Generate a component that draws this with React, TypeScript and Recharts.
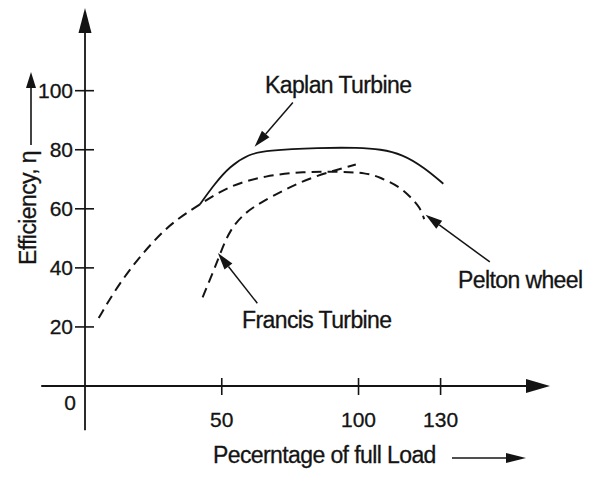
import { LineChart, Line, XAxis, YAxis, ReferenceLine } from "recharts"

// efficiency curves (load in %, efficiency in %)
const kaplanLoad = [42, 47, 53, 60, 66, 86, 100, 108, 116, 124, 131]
const kaplanEff = [61.5, 68, 74.5, 78.5, 79.8, 80.7, 80.7, 80.2, 78.5, 74, 68.5]

const peltonLoad = [5, 11, 18, 25, 32, 42, 53, 66, 80, 92, 103, 108, 115, 119, 122.5, 124]
const peltonEff = [23, 32.5, 41.5, 49, 55.5, 61.5, 68, 71.2, 72.6, 72.6, 72.2, 70.6, 67.5, 64, 60.5, 56.5]

const francisLoad = [43, 47, 49.5, 53, 58.5, 64, 73, 83.5, 99]
const francisEff = [30, 39, 45, 53, 58.7, 62, 66.5, 71, 75]

const loadTicks = [50, 100, 130]
const effTicks = [20, 40, 60, 80, 100]

const toPoints = (xs: number[], ys: number[]) => xs.map((x, i) => ({ load: x, eff: ys[i] }))

const kaplan = toPoints(kaplanLoad, kaplanEff)
const pelton = toPoints(peltonLoad, peltonEff)
const francis = toPoints(francisLoad, francisEff)

const ink = "#141414"
const font = '"Liberation Sans", Arial, Helvetica, sans-serif'

const arrowShape = (head: number, half: number, width: number) => (p: any) => {
  const { x1, y1, x2, y2 } = p
  const len = Math.hypot(x2 - x1, y2 - y1) || 1
  const ux = (x2 - x1) / len
  const uy = (y2 - y1) / len
  const bx = x2 - ux * head
  const by = y2 - uy * head
  const pts = `${x2},${y2} ${bx - uy * half},${by + ux * half} ${bx + uy * half},${by - ux * half}`
  return (
    <g>
      <line x1={x1} y1={y1} x2={bx} y2={by} stroke={ink} strokeWidth={width} />
      <polygon points={pts} fill={ink} />
    </g>
  )
}

const XTick = ({ x, y, payload }: any) => (
  <g>
    <line x1={x} y1={y - 8} x2={x} y2={y + 9} stroke={ink} strokeWidth={1.6} />
    <text x={x} y={y + 41} textAnchor="middle" fontSize={21} fill={ink} stroke={ink} strokeWidth={0.3} fontFamily={font}>
      {payload.value}
    </text>
  </g>
)

const YTick = ({ x, y, payload }: any) => (
  <g>
    <line x1={x - 10} y1={y} x2={x + 9} y2={y} stroke={ink} strokeWidth={1.6} />
    <text x={x - 12} y={y} dy="0.36em" textAnchor="end" fontSize={21} fill={ink} stroke={ink} strokeWidth={0.3} fontFamily={font}>
      {payload.value}
    </text>
  </g>
)

const labelStyle = { fontSize: 23, fill: ink, stroke: ink, strokeWidth: 0.3, fontFamily: font, letterSpacing: -0.6 }

export default function App() {
  return (
    <div style={{ position: "absolute", left: 0, top: 0, width: 607, height: 481, background: "#fff" }}>
      <LineChart width={607} height={481} margin={{ top: 8, right: 57, bottom: 0, left: 0 }}>
        <XAxis
          dataKey="load"
          type="number"
          domain={[0, 170]}
          ticks={loadTicks}
          interval={0}
          axisLine={false}
          tickLine={false}
          tickSize={0}
          tickMargin={0}
          height={95}
          tick={<XTick />}
        />
        <YAxis
          type="number"
          domain={[0, 128]}
          ticks={effTicks}
          interval={0}
          axisLine={false}
          tickLine={false}
          tickSize={0}
          tickMargin={0}
          width={85}
          tick={<YTick />}
        />

        {/* axes with arrow heads, crossing at the origin */}
        <ReferenceLine segment={[{ x: -16, y: 0 }, { x: 170, y: 0 }]} ifOverflow="visible" shape={arrowShape(24, 7, 1.8)} />
        <ReferenceLine segment={[{ x: 0, y: -15 }, { x: 0, y: 128 }]} ifOverflow="visible" shape={arrowShape(25, 6.5, 1.8)} />

        <Line data={pelton} dataKey="eff" type="basis" stroke={ink} strokeWidth={2} strokeDasharray="10 6" dot={false} activeDot={false} isAnimationActive={false} />
        <Line data={francis} dataKey="eff" type="basis" stroke={ink} strokeWidth={2} strokeDasharray="10 6" dot={false} activeDot={false} isAnimationActive={false} />
        <Line data={kaplan} dataKey="eff" type="basis" stroke={ink} strokeWidth={1.8} dot={false} activeDot={false} isAnimationActive={false} />

        {/* pointer arrows to each curve */}
        <ReferenceLine segment={[{ x: 76, y: 96 }, { x: 62, y: 81 }]} ifOverflow="visible" shape={arrowShape(17, 5, 1.5)} />
        <ReferenceLine segment={[{ x: 63, y: 28 }, { x: 48.6, y: 45 }]} ifOverflow="visible" shape={arrowShape(17, 5, 1.5)} />
        <ReferenceLine segment={[{ x: 148, y: 42 }, { x: 124.5, y: 58 }]} ifOverflow="visible" shape={arrowShape(17, 5, 1.5)} />

        <text x={265} y={93} {...labelStyle}>Kaplan Turbine</text>
        <text x={242} y={328} {...labelStyle}>Francis Turbine</text>
        <text x={458} y={288} {...labelStyle}>Pelton wheel</text>

        <text x={70} y={410} textAnchor="middle" fontSize={21} fill={ink} stroke={ink} strokeWidth={0.3} fontFamily={font}>0</text>

        <text x={213} y={463} {...labelStyle}>Pecerntage of full Load</text>
        <line x1={452} y1={458} x2={508} y2={458} stroke={ink} strokeWidth={1.6} />
        <polygon points="526,458 506,453 506,463" fill={ink} />

        <text x={28} y={208} transform="rotate(-90 28 208)" textAnchor="middle" dominantBaseline="central" {...labelStyle}>
          Efficiency, η
        </text>
        <line x1={31} y1={145} x2={31} y2={86} stroke={ink} strokeWidth={1.6} />
        <polygon points="31,72 26,88 36,88" fill={ink} />
      </LineChart>
    </div>
  )
}
